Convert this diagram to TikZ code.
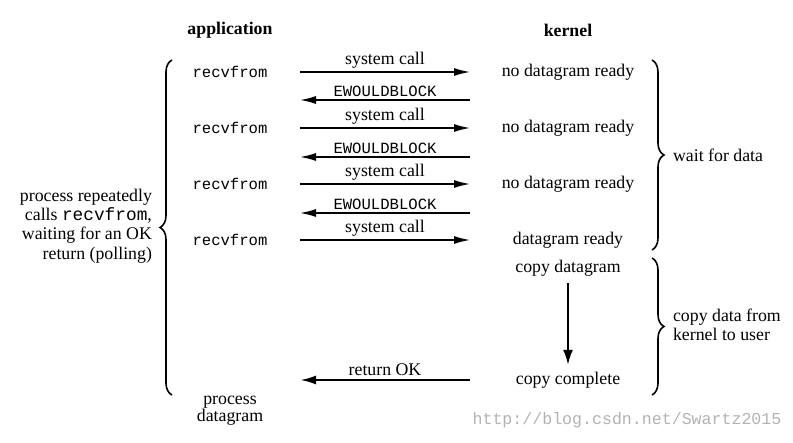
\documentclass[tikz,border=0pt]{standalone}
\usepackage{fontspec}
\setmainfont{Liberation Serif}
\setmonofont{Liberation Mono}
\usetikzlibrary{arrows.meta,decorations.pathreplacing}
\begin{document}
\begin{tikzpicture}[x=0.5pt,y=-0.5pt,
  lbl/.style={font=\fontsize{8.9}{9.6}\selectfont},
  code/.style={font=\fontsize{7.8}{9}\selectfont\ttfamily},
  call/.style={line width=0.75pt,-{Latex[length=8pt,width=4pt]}},
  bigcall/.style={line width=1.2pt,-{Latex[length=8pt,width=4.5pt]}},
  brc/.style={decorate,decoration={brace,amplitude=6pt},line width=0.8pt}]
\useasboundingbox (0,0) rectangle (793,443);
\node[lbl,font=\fontsize{8.9}{9.6}\selectfont\bfseries] (app) at (230,30) {application};
\node[lbl,font=\fontsize{8.9}{9.6}\selectfont\bfseries] (kern) at (568,30) {kernel};
% application side
\foreach \i/\y in {1/72,2/128,3/184,4/240}
  \node[code] (r\i) at (230,\y) {recvfrom};
\node[lbl,align=center,font=\fontsize{8.9}{8.6}\selectfont] (proc) at (230,411) {process\\datagram};
\node[lbl,align=right,anchor=east] (poll) at (159,226)
  {process repeatedly\\calls \texttt{recvfrom},\\waiting for an OK\\return (polling)};
% kernel side
\foreach \i/\y in {1/72,2/128,3/184}
  \node[lbl] (k\i) at (568,\y) {no datagram ready};
\node[lbl] (k4) at (568,240) {datagram ready};
\node[lbl] (cd) at (568,268) {copy datagram};
\node[lbl] (cc) at (568,380) {copy complete};
% arrow ends
\coordinate (ax) at (300,0);
\coordinate (kx) at (470,0);
\foreach \i in {1,...,4}
  \draw[call] (ax |- r\i) -- (kx |- r\i) node[midway,above,lbl,inner sep=1.5pt] {system call};
\foreach \i/\y in {1/100,2/157,3/213} {
  \coordinate (e\i) at (470,\y);
  \draw[call] (e\i) -- (ax |- e\i) node[midway,above,code,inner sep=1.5pt] {EWOULDBLOCK};
}
\draw[bigcall] (kx |- cc) -- (ax |- cc) node[midway,above,lbl,inner sep=1.5pt] {return OK};
\draw[line width=1pt,-{Latex[length=7.5pt,width=5pt]}] (cd.south) -- (cc.north);
% braces
\draw[brc] (172,395) -- (172,60);
\draw[brc] (652,60) -- (652,250);
\draw[brc] (652,258) -- (652,395);
\node[lbl,anchor=west] (wait) at (666,155) {wait for data};
\node[lbl,anchor=west,align=left] (copy) at (666,325) {copy data from\\kernel to user};
\node[font=\fontsize{8.3}{9}\selectfont\ttfamily,text=black!30] (mark) at (627,420) {http://blog.csdn.net/Swartz2015};
\end{tikzpicture}
\end{document}
